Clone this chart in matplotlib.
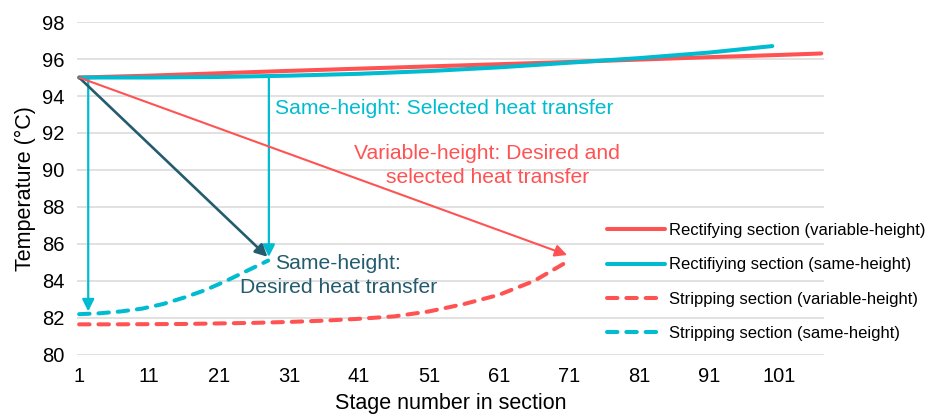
import matplotlib.pyplot as plt

plt.rcParams['font.family'] = ['Liberation Sans', 'DejaVu Sans']

RED = '#FF5252'
CYAN = '#00BCD0'
DARK = '#245B6E'

# rectifying section, variable-height
rect_var_x = [1, 11, 21, 31, 41, 51, 61, 71, 81, 91, 101, 107]
rect_var_y = [95.0, 95.1, 95.23, 95.36, 95.48, 95.6, 95.72, 95.84, 95.97, 96.1, 96.22, 96.3]

# rectifying section, same-height
rect_same_x = [1, 11, 21, 31, 41, 51, 61, 71, 81, 91, 100]
rect_same_y = [95.0, 95.0, 95.03, 95.1, 95.2, 95.35, 95.55, 95.8, 96.05, 96.35, 96.7]

# stripping section, variable-height
strip_var_x = [1, 6, 11, 16, 21, 26, 31, 36, 41, 46, 51, 56, 61, 66, 71]
strip_var_y = [81.65, 81.65, 81.66, 81.67, 81.7, 81.73, 81.78, 81.85, 81.95, 82.08,
               82.35, 82.75, 83.25, 84.0, 85.1]

# stripping section, same-height
strip_same_x = [1, 4, 7, 10, 13, 16, 19, 22, 25, 28]
strip_same_y = [82.2, 82.25, 82.35, 82.5, 82.75, 83.1, 83.5, 84.0, 84.55, 85.1]

xticks = [1, 11, 21, 31, 41, 51, 61, 71, 81, 91, 101]
yticks = [80, 82, 84, 86, 88, 90, 92, 94, 96, 98]

fig = plt.figure(figsize=(9.28, 4.16), dpi=100)
ax = fig.add_axes([0.083, 0.147, 0.805, 0.800])

lw = 2.9
ax.plot(rect_var_x, rect_var_y, color=RED, lw=lw, solid_capstyle='round',
        label='Rectifying section (variable-height)', zorder=3)
ax.plot(rect_same_x, rect_same_y, color=CYAN, lw=lw, solid_capstyle='round',
        label='Rectifiying section (same-height)', zorder=4)
ax.plot(strip_var_x, strip_var_y, color=RED, lw=lw, dashes=(2.6, 2.2),
        dash_capstyle='round', label='Stripping section (variable-height)', zorder=3)
ax.plot(strip_same_x, strip_same_y, color=CYAN, lw=lw, dashes=(2.6, 2.2),
        dash_capstyle='round', label='Stripping section (same-height)', zorder=3)

# heat transfer arrows
def arrow(x0, y0, x1, y1, color, lw):
    ax.annotate('', xy=(x1, y1), xytext=(x0, y0),
                arrowprops=dict(arrowstyle='-|>', color=color, lw=lw,
                                mutation_scale=18, shrinkA=0, shrinkB=0),
                zorder=5)

arrow(2.3, 95.0, 2.3, 82.35, CYAN, 1.6)
arrow(28.1, 95.0, 28.1, 85.3, CYAN, 1.6)
arrow(1.0, 95.0, 27.9, 85.3, DARK, 1.9)
arrow(1.0, 95.0, 70.7, 85.4, RED, 1.5)

fs = 15.2
ax.text(29.0, 93.35, 'Same-height: Selected heat transfer', color=CYAN,
        fontsize=fs, va='center', ha='left')
ax.text(59.3, 90.25, 'Variable-height: Desired and\nselected heat transfer', color=RED,
        fontsize=fs, va='center', ha='center', linespacing=1.35)
ax.text(38.0, 84.3, 'Same-height:\nDesired heat transfer', color=DARK,
        fontsize=fs, va='center', ha='center', linespacing=1.3)

ax.set_xlim(0.7, 107.4)
ax.set_ylim(80, 98)
ax.set_xticks(xticks)
ax.set_yticks(yticks)
ax.tick_params(length=0, labelsize=14.5, pad=9)
ax.grid(axis='y', color='#D9D9D9', lw=1.1)
ax.set_axisbelow(True)
for s in ax.spines.values():
    s.set_visible(False)

ax.set_ylabel('Temperature (°C)', fontsize=15.5, labelpad=4)
ax.set_xlabel('Stage number in section', fontsize=15.5, labelpad=5)

leg = fig.legend(loc='center left', bbox_to_anchor=(0.638, 0.322), frameon=False,
                 fontsize=12.0, handlelength=3.45, labelspacing=1.15, handletextpad=0.25)

fig.savefig('out.png', dpi=100)
